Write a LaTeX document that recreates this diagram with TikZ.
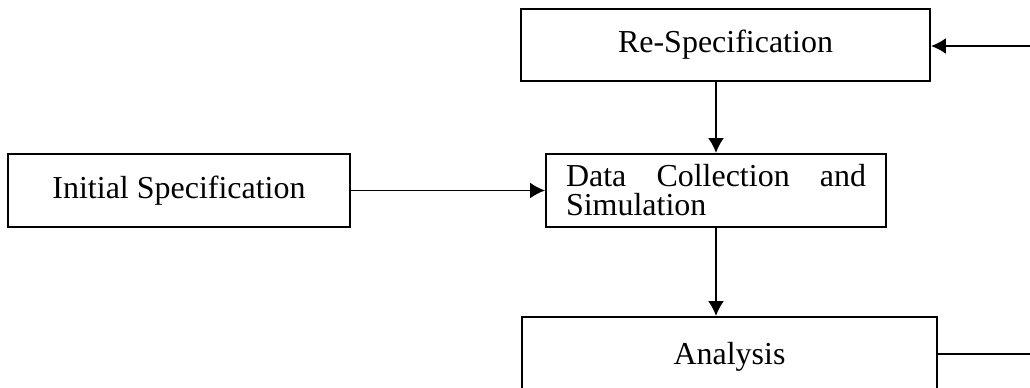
\documentclass[tikz,border=0pt]{standalone}
\usepackage{fontspec}
\setmainfont{Liberation Serif}
\usetikzlibrary{arrows.meta}
\begin{document}
\begin{tikzpicture}[x = 0.02cm, y = -0.02cm,
	box/.style = {draw, line width = 1.1pt, inner xsep = 0.4cm, inner ysep = 0.1cm,
			font = \fontsize{18.2}{16.5}\selectfont},
	flow/.style = {line width = 1.1pt, -{Latex[length = 0.3cm, width = 0.32cm]}}]
	      \useasboundingbox (0,0) rectangle (1030,388);
	      \clip (0,0) rectangle (1030,388);

	      \node [box, minimum width = 409*0.02cm, minimum height = 72*0.02cm] (resp) at (725.5,45) {Re-Specification};
	      \node [box, minimum width = 342*0.02cm, minimum height = 73*0.02cm] (init) at (179,190.5) {Initial Specification};
	      \node [box, text width = 6cm, align = justify, minimum height = 73*0.02cm] (data) at (716,190.5) {Data Collection and Simulation};
	      \node [box, minimum width = 415*0.02cm, minimum height = 80*0.02cm] (anal) at (729.5,357) {Analysis};

	      \coordinate (outA) at (1030,354);
	      \coordinate (outR) at (1030,46);

	      \draw [flow] (init.east) -- (data.west);
	      \draw [flow] (resp.south -| data.north) -- (data.north);
	      \draw [flow] (data.south) -- (data.south |- anal.north);
	      \draw [line width = 1.1pt] (anal.east |- outA) -- (outA);
	      \draw [flow] (outR) -- (resp.east |- outR);

      \end{tikzpicture}
\end{document}
